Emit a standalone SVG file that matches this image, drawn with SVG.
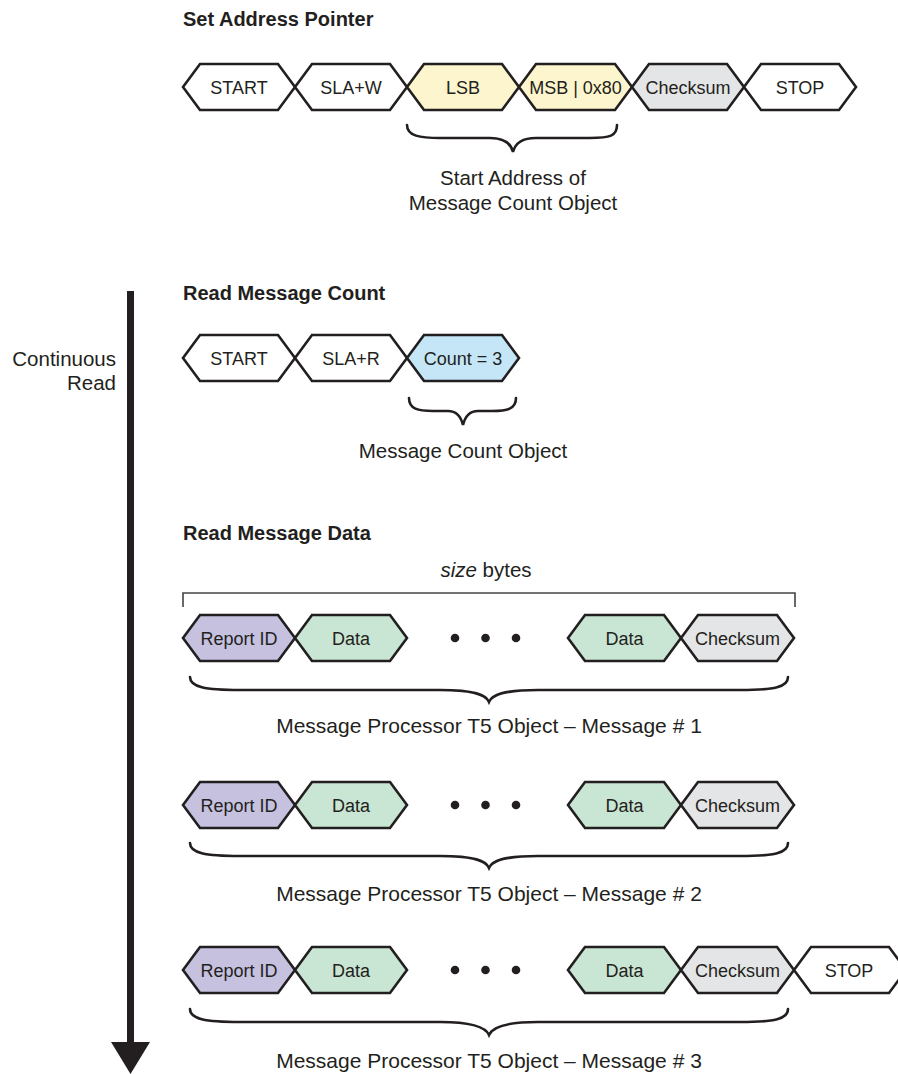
<svg xmlns="http://www.w3.org/2000/svg" width="898" height="1074" viewBox="0 0 898 1074">
<style>
.hx{stroke:#231f20;stroke-width:2.6;stroke-linejoin:miter}
.w{fill:#ffffff}.y{fill:#fdf5cd}.g{fill:#e4e5e6}.b{fill:#c4e6f7}.p{fill:#c5c1df}.d{fill:#c9e5d3}
.t{font-family:"Liberation Sans",Arial,sans-serif;font-size:18px;fill:#231f20;text-anchor:middle}
.h{font-family:"Liberation Sans",Arial,sans-serif;font-size:20px;font-weight:bold;fill:#231f20}
.l{font-family:"Liberation Sans",Arial,sans-serif;font-size:20.5px;fill:#231f20;text-anchor:middle}
.m{font-size:21px}
.br{fill:none;stroke:#231f20;stroke-width:2.6;stroke-linecap:round}
.bk{fill:none;stroke:#444;stroke-width:1.6}
.dot{fill:#231f20}
</style>
<rect width="898" height="1074" fill="#ffffff"/>

<text class="h" x="183" y="26">Set Address Pointer</text>
<text class="h" x="183" y="300">Read Message Count</text>
<text class="h" x="183" y="540">Read Message Data</text>

<g id="continuous-read">
<text class="l" x="116" y="366" style="text-anchor:end">Continuous</text>
<text class="l" x="116" y="390" style="text-anchor:end">Read</text>
</g>

<!-- Row 1 -->
<g id="r1-start"><polygon class="hx w" points="183,87 200,64 278,64 295,87 278,110 200,110"/><text class="t" x="239" y="93.5">START</text></g>
<g id="r1-slaw"><polygon class="hx w" points="295,87 312,64 390,64 407,87 390,110 312,110"/><text class="t" x="351" y="93.5">SLA+W</text></g>
<g id="r1-lsb"><polygon class="hx y" points="407,87 424,64 502,64 519,87 502,110 424,110"/><text class="t" x="463" y="93.5">LSB</text></g>
<g id="r1-msb"><polygon class="hx y" points="519,87 536,64 615,64 632,87 615,110 536,110"/><text class="t" x="575.5" y="93.5">MSB | 0x80</text></g>
<g id="r1-checksum"><polygon class="hx g" points="632,87 649,64 727,64 744,87 727,110 649,110"/><text class="t" x="688" y="93.5">Checksum</text></g>
<g id="r1-stop"><polygon class="hx w" points="744,87 761,64 839,64 856,87 839,110 761,110"/><text class="t" x="800" y="93.5">STOP</text></g>
<g id="label-start-address"><text class="l" x="513" y="185">Start Address of</text><text class="l" x="513" y="210">Message Count Object</text></g>

<!-- Row 2 -->
<g id="r2-start"><polygon class="hx w" points="183,358 200,335 278,335 295,358 278,381 200,381"/><text class="t" x="239" y="364.5">START</text></g>
<g id="r2-slar"><polygon class="hx w" points="295,358 312,335 390,335 407,358 390,381 312,381"/><text class="t" x="351" y="364.5">SLA+R</text></g>
<g id="r2-count"><polygon class="hx b" points="407,358 424,335 502,335 519,358 502,381 424,381"/><text class="t" x="463" y="364.5">Count = 3</text></g>
<g id="label-count"><text class="l" x="463" y="458">Message Count Object</text></g>

<!-- size bytes bracket -->
<g id="size-bytes">
<text class="l" x="486" y="577"><tspan font-style="italic">size</tspan> bytes</text>
<polyline class="bk" points="183,607 183,593 795,593 795,607"/>
</g>

<!-- Row 3 -->
<g id="r3-report"><polygon class="hx p" points="183,638 200,615 278,615 295,638 278,661 200,661"/><text class="t" x="239" y="644.5">Report ID</text></g>
<g id="r3-data1"><polygon class="hx d" points="295,638 312,615 390,615 407,638 390,661 312,661"/><text class="t" x="351" y="644.5">Data</text></g>
<g id="r3-dots"><circle class="dot" cx="455" cy="638" r="4.3"/><circle class="dot" cx="485.5" cy="638" r="4.3"/><circle class="dot" cx="516" cy="638" r="4.3"/></g>
<g id="r3-data2"><polygon class="hx d" points="568,638 585,615 664,615 681,638 664,661 585,661"/><text class="t" x="624.5" y="644.5">Data</text></g>
<g id="r3-checksum"><polygon class="hx g" points="681,638 698,615 777,615 794,638 777,661 698,661"/><text class="t" x="737.5" y="644.5">Checksum</text></g>
<g id="label-msg1"><text class="l m" x="489" y="733">Message Processor T5 Object – Message # 1</text></g>

<!-- Row 4 -->
<g id="r4-report"><polygon class="hx p" points="183,805 200,782 278,782 295,805 278,828 200,828"/><text class="t" x="239" y="811.5">Report ID</text></g>
<g id="r4-data1"><polygon class="hx d" points="295,805 312,782 390,782 407,805 390,828 312,828"/><text class="t" x="351" y="811.5">Data</text></g>
<g id="r4-dots"><circle class="dot" cx="455" cy="805" r="4.3"/><circle class="dot" cx="485.5" cy="805" r="4.3"/><circle class="dot" cx="516" cy="805" r="4.3"/></g>
<g id="r4-data2"><polygon class="hx d" points="568,805 585,782 664,782 681,805 664,828 585,828"/><text class="t" x="624.5" y="811.5">Data</text></g>
<g id="r4-checksum"><polygon class="hx g" points="681,805 698,782 777,782 794,805 777,828 698,828"/><text class="t" x="737.5" y="811.5">Checksum</text></g>
<g id="label-msg2"><text class="l m" x="489" y="901">Message Processor T5 Object – Message # 2</text></g>

<!-- Row 5 -->
<g id="r5-report"><polygon class="hx p" points="183,970 200,947 278,947 295,970 278,993 200,993"/><text class="t" x="239" y="976.5">Report ID</text></g>
<g id="r5-data1"><polygon class="hx d" points="295,970 312,947 390,947 407,970 390,993 312,993"/><text class="t" x="351" y="976.5">Data</text></g>
<g id="r5-dots"><circle class="dot" cx="455" cy="970" r="4.3"/><circle class="dot" cx="485.5" cy="970" r="4.3"/><circle class="dot" cx="516" cy="970" r="4.3"/></g>
<g id="r5-data2"><polygon class="hx d" points="568,970 585,947 664,947 681,970 664,993 585,993"/><text class="t" x="624.5" y="976.5">Data</text></g>
<g id="r5-checksum"><polygon class="hx g" points="681,970 698,947 777,947 794,970 777,993 698,993"/><text class="t" x="737.5" y="976.5">Checksum</text></g>
<g id="r5-stop"><polygon class="hx w" points="794,970 811,947 889,947 906,970 889,993 811,993"/><text class="t" x="849" y="976.5">STOP</text></g>
<g id="label-msg3"><text class="l m" x="489" y="1068">Message Processor T5 Object – Message # 3</text></g>

<g id="connectors">
<!-- braces -->
<path class="br" d="M407,125 C407,136 420,138 440,138 L490,138 C505,138 511,144 513,152 C515,144 521,138 536,138 L590,138 C610,138 617,136 617,125"/>
<path class="br" d="M409,398 C409,409 418,411 433,411 L448,411 C457,411 461,417 463,425 C465,417 469,411 478,411 L492,411 C507,411 516,409 516,398"/>
<path class="br" d="M190,677 C190,687 205,690 240,690 L440,690 C475,690 486,695 489,702 C492,695 503,690 538,690 L740,690 C775,690 788,687 788,677"/>
<path class="br" d="M190,843 C190,853 205,856 240,856 L440,856 C475,856 486,861 489,868 C492,861 503,856 538,856 L740,856 C775,856 788,853 788,843"/>
<path class="br" d="M190,1009 C190,1019 205,1022 240,1022 L440,1022 C475,1022 486,1028 489,1035 C492,1028 503,1022 538,1022 L740,1022 C775,1022 788,1019 788,1009"/>
<!-- continuous read arrow -->
<rect x="127" y="291" width="7" height="754" fill="#231f20"/>
<polygon points="111,1042 150,1042 130.5,1074" fill="#231f20"/>
</g>
</svg>
